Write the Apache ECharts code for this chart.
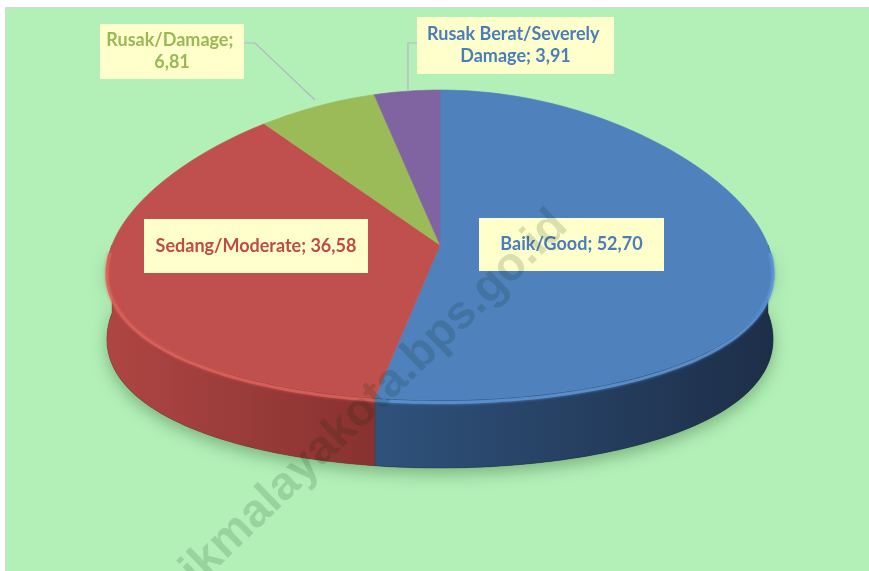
<!DOCTYPE html>
<html>
<head>
<meta charset="utf-8">
<script src="https://cdn.jsdelivr.net/npm/echarts@6/dist/echarts.min.js"></script>
<style>
html,body{margin:0;padding:0;background:#fff;}
#Pie{width:869px;height:571px;}
</style>
</head>
<body>
<div id="Pie"></div>
<script>
// data
var names = ['Baik/Good', 'Sedang/Moderate', 'Rusak/Damage', 'Rusak Berat/Severely Damage'];
var values = [52.70, 36.58, 6.81, 3.91];

// colours
var topColors = ['#4f81bd', '#c0504d', '#9bbb59', '#8064a2'];
var rimColors = ['#5e95d6', '#dc625d', '#b2d06c', '#9379b8'];
var sideColors = [['#2f527b', '#1d2e48'], ['#ae4643', '#873230'], ['#7d9746', '#6a813a'], ['#654f82', '#58456f']];
var textColors = ['#4a7ebb', '#be4b48', '#98b954', '#4a7ebb'];

// layout of the 3d pie + label boxes (Excel placed them by hand)
var pie = {cx: 440, cy: 245, rx: 328, ry: 155, h: 68, k: 0.18};
var labelLayout = [
	{box: [479, 218, 185, 53], wrap: 0},
	{box: [144, 219, 224, 54], wrap: 0},
	{box: [100, 24, 144, 55], wrap: 135, line: [[244, 43], [255, 43], [315, 100]]},
	{box: [417, 17, 197, 57], wrap: 190, line: [[417, 43], [408, 43], [408, 90]]}
];

var total = values.reduce(function (a, b) { return a + b; }, 0);
var angles = [];
var acc = 0;
values.forEach(function (v) {
	angles.push([acc / total * 360, (acc + v) / total * 360]);
	acc += v;
});

// angle measured clockwise from 12 o'clock, with a little perspective
function pt(theta, dy) {
	var t = theta * Math.PI / 180;
	var s = 1 - pie.k * Math.cos(t);
	return [pie.cx + pie.rx * Math.sin(t) * s, pie.cy - pie.ry * Math.cos(t) + (dy || 0)];
}
function arc(a0, a1, dy) {
	var n = Math.max(2, Math.ceil(Math.abs(a1 - a0) / 1.5));
	var pts = [];
	for (var i = 0; i <= n; i++) pts.push(pt(a0 + (a1 - a0) * i / n, dy));
	return pts;
}

function renderSide(params, api) {
	var i = params.dataIndex;
	var a = angles[i];
	var s = Math.max(a[0], 90), e = Math.min(a[1], 270);
	var children = [];
	if (i === 0) {
		// soft shadow under the whole pie
		children.push({
			type: 'polygon',
			shape: {points: arc(90, 270, 0).concat(arc(270, 90, pie.h))},
			style: {fill: '#2a402a', shadowBlur: 16, shadowColor: 'rgba(20,70,20,0.35)', shadowOffsetY: 6}
		});
	}
	if (e > s) {
		var pts = arc(s, e, 0).concat(arc(e, s, pie.h));
		var xs = pts.map(function (p) { return p[0]; });
		var x0 = Math.min.apply(null, xs), x1 = Math.max.apply(null, xs);
		children.push({
			type: 'polygon',
			shape: {points: pts},
			style: {
				fill: {
					type: 'linear', x: x0, y: 0, x2: x1, y2: 0, global: true,
					colorStops: [{offset: 0, color: sideColors[i][0]}, {offset: 1, color: sideColors[i][1]}]
				},
				stroke: sideColors[i][1], lineWidth: 0.4
			}
		});
	}
	return {type: 'group', children: children};
}

function labelText(i) {
	return names[i] + '; ' + values[i].toFixed(2).replace('.', ',');
}

function renderTop(params, api) {
	var i = params.dataIndex;
	var a = angles[i];
	var children = [];
	children.push({
		type: 'polygon',
		shape: {points: [[pie.cx, pie.cy]].concat(arc(a[0], a[1], 0))},
		style: {fill: topColors[i], stroke: topColors[i], lineWidth: 0.6}
	});
	var s = Math.max(a[0], 92), e = Math.min(a[1], 268);
	if (e > s) {
		children.push({
			type: 'polyline',
			shape: {points: arc(s, e, 2.5)},
			style: {stroke: rimColors[i], lineWidth: 3, opacity: 0.8, fill: null, shadowBlur: 3, shadowColor: rimColors[i]}
		});
	}
	var L = labelLayout[i];
	if (L.line) {
		children.push({
			type: 'polyline',
			shape: {points: L.line},
			style: {stroke: '#b7b3c7', lineWidth: 1.2, fill: null}
		});
	}
	children.push({
		type: 'rect',
		shape: {x: L.box[0], y: L.box[1], width: L.box[2], height: L.box[3]},
		style: {fill: '#ffffcc'}
	});
	var ts = {
		text: labelText(i),
		fill: textColors[i],
		font: 'bold 18px Lato',
		align: 'center',
		verticalAlign: 'middle',
		lineHeight: 22
	};
	if (L.wrap) {
		ts.width = L.wrap;
		ts.overflow = 'break';
	}
	children.push({
		type: 'text',
		x: L.box[0] + L.box[2] / 2,
		y: L.box[1] + L.box[3] / 2,
		style: ts
	});
	return {type: 'group', children: children};
}

var myChart = echarts.init(document.getElementById('Pie'));
var option = {
	backgroundColor: '#ffffff',
	animation: false,
	graphic: [
		{
			type: 'rect', z: 0,
			shape: {x: 5.5, y: 7.5, width: 870, height: 570},
			style: {fill: '#b3f0b8', stroke: '#d6d6d6', lineWidth: 1}
		},
		{
			type: 'text', z: 100,
			x: 350, y: 422,
			rotation: 44 * Math.PI / 180,
			style: {
				text: 'tasikmalayakota.bps.go.id',
				font: 'bold 47px "Liberation Sans"',
				fill: 'rgba(0,40,0,0.15)',
				align: 'center',
				verticalAlign: 'middle'
			}
		}
	],
	series: [
		{
			type: 'custom',
			coordinateSystem: 'none',
			z: 2,
			renderItem: renderSide,
			data: values
		},
		{
			type: 'custom',
			coordinateSystem: 'none',
			z: 3,
			renderItem: renderTop,
			data: values
		}
	]
};
myChart.setOption(option);
</script>
</body>
</html>
